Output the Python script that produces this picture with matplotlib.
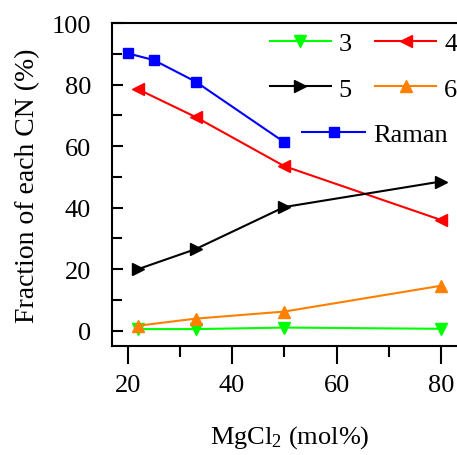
import matplotlib
matplotlib.use('Agg')
import matplotlib.pyplot as plt
from matplotlib.ticker import MultipleLocator

plt.rcParams['font.family'] = ['Liberation Serif', 'DejaVu Serif']
plt.rcParams['mathtext.fontset'] = 'custom'
plt.rcParams['mathtext.rm'] = 'Liberation Serif'
plt.rcParams['mathtext.default'] = 'regular'

# data
x_cn = [22, 33, 50, 80]
cn3 = [0.5, 0.5, 1.0, 0.6]
cn4 = [78.5, 69.5, 53.5, 36.0]
cn5 = [20.0, 26.5, 40.2, 48.5]
cn6 = [1.6, 3.9, 6.2, 14.6]
x_raman = [20, 25, 33, 50]
raman = [90.2, 88.0, 81.0, 61.3]

fs = 19

fig = plt.figure(figsize=(4.57, 4.56), dpi=100)
ax = fig.add_axes([0.245, 0.239, 0.777, 0.708])

lw = 1.5
ms = 8
l3, = ax.plot(x_cn, cn3, color='#00ff00', marker='v', lw=lw, ms=ms, label='3')
l4, = ax.plot(x_cn, cn4, color='#ff0000', marker='<', lw=lw, ms=ms, label='4')
l5, = ax.plot(x_cn, cn5, color='black', marker='>', lw=lw, ms=ms, label='5')
l6, = ax.plot(x_cn, cn6, color='#ff8000', marker='^', lw=lw, ms=ms, label='6')
lr, = ax.plot(x_raman, raman, color='#0000ff', marker='s', lw=lw, ms=7, label='Raman')

ax.set_xlim(17, 85)
ax.set_ylim(-5, 100)
ax.xaxis.set_major_locator(MultipleLocator(20))
ax.xaxis.set_minor_locator(MultipleLocator(10))
ax.yaxis.set_major_locator(MultipleLocator(20))
ax.yaxis.set_minor_locator(MultipleLocator(10))
ax.tick_params(axis='x', which='major', direction='out', length=13, width=1.5, pad=7, labelsize=fs)
ax.tick_params(axis='x', which='minor', direction='out', length=8, width=1.5)
ax.tick_params(axis='y', which='major', direction='in', length=8, width=1.5, pad=15, labelsize=fs)
ax.tick_params(axis='y', which='minor', direction='in', length=7, width=1.5)
ax.tick_params(top=False, right=False, which='both')
for s in ax.spines.values():
    s.set_linewidth(1.5)

ax.set_xlabel('MgCl$_2$ (mol%)', fontsize=fs, labelpad=20)
ax.set_ylabel('Fraction of each CN (%)', fontsize=20, labelpad=8)

# column-first fill: order handles so rows read 3,4 / 5,6
fig.legend(handles=[l3, l5, l4, l6], ncol=2, frameon=False, fontsize=fs,
           loc='upper left', bbox_to_anchor=(270 / 457, 1 - 33 / 456),
           borderpad=0, borderaxespad=0, handlelength=2.3, handletextpad=0.3,
           columnspacing=0.9, labelspacing=0.82)
fig.legend(handles=[lr], frameon=False, fontsize=fs,
           loc='upper left', bbox_to_anchor=(302 / 457, 1 - 124 / 456),
           borderpad=0, borderaxespad=0, handlelength=2.4, handletextpad=0.3)

fig.savefig('out.png', dpi=100)
